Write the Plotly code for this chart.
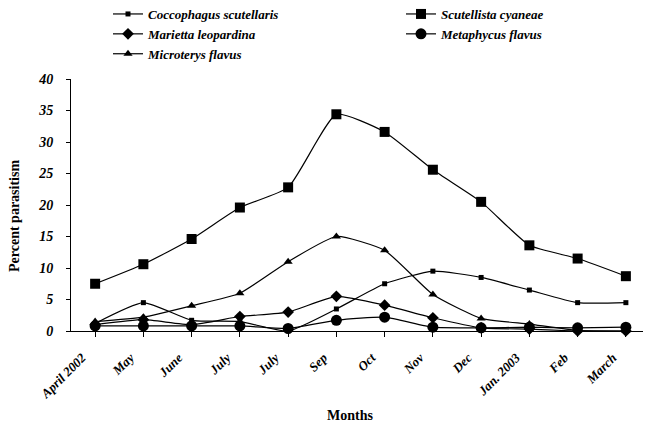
import plotly.graph_objects as go

months = ["April 2002", "May", "June", "July", "July", "Sep", "Oct", "Nov", "Dec", "Jan. 2003", "Feb", "March"]

coccophagus = [1.2, 4.5, 1.7, 1.5, 0.0, 3.5, 7.5, 9.5, 8.5, 6.5, 4.5, 4.5]
scutellista = [7.5, 10.6, 14.6, 19.6, 22.8, 34.4, 31.6, 25.6, 20.5, 13.6, 11.5, 8.7]
marietta = [1.0, 1.8, 1.0, 2.3, 3.0, 5.5, 4.1, 2.1, 0.5, 0.3, 0.0, 0.0]
metaphycus = [0.8, 0.8, 0.8, 0.8, 0.4, 1.7, 2.2, 0.6, 0.5, 0.6, 0.5, 0.6]
microterys = [1.5, 2.2, 4.0, 6.0, 11.0, 15.0, 12.8, 5.8, 2.0, 1.1, 0.1, 0.0]

x_idx = list(range(len(months)))

FONT = "Liberation Serif"

series = [
    ("Coccophagus scutellaris", coccophagus, "square", 5, "legend"),
    ("Scutellista cyaneae", scutellista, "square", 10, "legend2"),
    ("Marietta leopardina", marietta, "diamond", 9, "legend"),
    ("Metaphycus flavus", metaphycus, "circle", 11, "legend2"),
    ("Microterys flavus", microterys, "triangle-up", 8, "legend"),
]

fig = go.Figure()
for name, vals, sym, size, leg in series:
    fig.add_trace(go.Scatter(
        x=x_idx, y=vals, name=name, mode="lines+markers",
        line=dict(color="black", width=1.2, shape="spline", smoothing=0.5),
        marker=dict(symbol=sym, size=size, color="black"),
        cliponaxis=False, legend=leg,
    ))

legfont = dict(family=FONT, size=13, color="black", weight="bold", style="italic")

W, H = 643, 418
PH = 252
legend_y = 1 + 80 / PH
fig.update_layout(
    width=W, height=H,
    margin=dict(l=63, r=1, t=71, b=95, pad=0, autoexpand=False),
    paper_bgcolor="white", plot_bgcolor="white",
    showlegend=True,
    legend=dict(xref="container", yref="paper", x=100/W, y=legend_y,
                xanchor="left", yanchor="top", font=legfont,
                bgcolor="rgba(0,0,0,0)", tracegroupgap=0, itemwidth=30),
    legend2=dict(xref="container", yref="paper", x=393/W, y=legend_y,
                 xanchor="left", yanchor="top", font=legfont,
                 bgcolor="rgba(0,0,0,0)", tracegroupgap=0, itemwidth=30),
    xaxis=dict(
        tickmode="array", tickvals=x_idx, ticktext=months,
        range=[-0.5, 11.5], showline=True, linecolor="black", linewidth=1,
        ticks="outside", ticklen=5, tickcolor="black", showgrid=False, zeroline=False,
        tickangle=-45, ticklabelshift=-13, ticklabelstandoff=8, automargin=False,
        tickson="boundaries",
        tickfont=dict(family=FONT, size=13, color="black", weight="bold", style="italic"),
    ),
    yaxis=dict(
        range=[0, 40], tickvals=[0, 5, 10, 15, 20, 25, 30, 35, 40],
        showline=True, linecolor="black", linewidth=1, automargin=False,
        ticks="outside", ticklen=4, tickcolor="black", showgrid=False, zeroline=False,
        ticklabelstandoff=10,
        tickfont=dict(family=FONT, size=14, color="black", weight="bold", style="italic"),
    ),
    annotations=[
        dict(text="Percent parasitism", xref="paper", yref="paper",
             x=(6 - 63) / 579, y=(323 - 208) / PH, textangle=-90, showarrow=False,
             xanchor="center", yanchor="middle",
             font=dict(family=FONT, size=14, color="black", weight="bold")),
        dict(text="Months", xref="paper", yref="paper",
             x=(342 - 63) / 579, y=(323 - 407) / PH, showarrow=False,
             xanchor="center", yanchor="middle",
             font=dict(family=FONT, size=14, color="black", weight="bold")),
    ],
)

fig.write_html("out.html")
